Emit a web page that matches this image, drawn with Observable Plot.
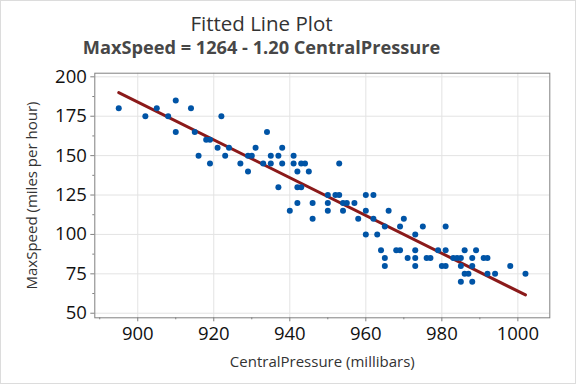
<!DOCTYPE html>
<html>
<head>
<meta charset="utf-8">
<script src="https://cdn.jsdelivr.net/npm/d3@7"></script>
<script src="https://cdn.jsdelivr.net/npm/@observablehq/plot@0.6"></script>
<style>
  html, body { margin: 0; padding: 0; background: #fff; }
  #wrap { position: relative; width: 576px; height: 384px; overflow: hidden; font-family: "Open Sans", sans-serif; background:#fff; }
  #chart { position: absolute; left: 0; top: 0; }
  .t { position: absolute; left: 0; width: 523px; text-align: center; white-space: nowrap; z-index: 2; }
  #title { top: 9.8px; font-size: 20.5px; line-height: 1.362; color: #333; }
  #subtitle { top: 35px; font-size: 18.2px; font-weight: 700; line-height: 1.362; color: #474747; }
  #border { position: absolute; left: 0; top: 0; width: 574px; height: 382px; border: 1px solid #dcdcdc; pointer-events: none; z-index: 3; }
  svg { display: block; }
</style>
</head>
<body>
<div id="wrap">
  <div id="chart"></div>
  <div class="t" id="title">Fitted Line Plot</div>
  <div class="t" id="subtitle">MaxSpeed = 1264 - 1.20 CentralPressure</div>
  <div id="border"></div>
</div>
<script>
// Data
const pressure = [
  895, 902, 905, 908, 910, 910, 914, 915, 916, 918,
  919, 919, 921, 922, 923, 924, 927, 929, 929, 930,
  931, 933, 934, 935, 935, 937, 937, 938, 938, 940,
  941, 941, 942, 942, 942, 943, 943, 944, 945, 946,
  946, 950, 950, 950, 952, 953, 953, 954, 954, 955,
  957, 958, 960, 960, 960, 962, 962, 963, 964, 965,
  965, 965, 966, 968, 969, 969, 970, 971, 973, 973,
  973, 973, 975, 976, 977, 979, 980, 981, 981, 981,
  983, 984, 985, 985, 985, 986, 986, 987, 988, 988,
  988, 989, 991, 992, 992, 994, 998, 1002
];
const speed = [
  180, 175, 180, 175, 185, 165, 180, 165, 150, 160,
  160, 145, 155, 175, 150, 155, 145, 150, 140, 150,
  155, 145, 165, 150, 145, 150, 130, 155, 145, 115,
  150, 145, 140, 130, 120, 145, 130, 145, 140, 120,
  110, 125, 120, 115, 125, 125, 145, 120, 115, 120,
  120, 110, 125, 115, 100, 125, 110, 100, 90, 105,
  85, 80, 115, 90, 105, 90, 110, 85, 100, 90,
  85, 80, 105, 85, 85, 90, 80, 105, 90, 80,
  85, 85, 85, 80, 70, 90, 75, 75, 85, 80,
  70, 90, 85, 85, 75, 75, 80, 75
];
const intercept = 1264;
const slope = -1.20;

const xTicks = [900, 920, 940, 960, 980, 1000];
const xMinorTicks = [890, 910, 930, 950, 970, 990];
const yTicks = [50, 75, 100, 125, 150, 175, 200];
const yMinorTicks = [62.5, 87.5, 112.5, 137.5, 162.5, 187.5];

const xLabel = "CentralPressure (millibars)";
const yLabel = "MaxSpeed (miles per hour)";

const points = pressure.map((p, i) => ({p, s: speed[i]}));
const fit = d3.extent(pressure).map(p => ({p, s: intercept + slope * p}));

const chart = Plot.plot({
  width: 576,
  height: 384,
  marginTop: 72.7,
  marginBottom: 66.7,
  marginLeft: 94.3,
  marginRight: 26.7,
  style: {fontFamily: "'Open Sans', sans-serif", background: "#fff"},
  x: {domain: [888.7, 1008.4], label: null},
  y: {domain: [47.1, 202.3], label: null},
  marks: [
    Plot.gridX(xTicks, {stroke: "#e3e3e3", strokeOpacity: 1, strokeWidth: 1}),
    Plot.gridY(yTicks, {stroke: "#e3e3e3", strokeOpacity: 1, strokeWidth: 1}),
    Plot.axisX(xTicks, {tickSize: 4, tickPadding: 5, fontSize: 18.5, fill: "#111", stroke: "#808080", label: null, tickFormat: d => String(d)}),
    Plot.axisX(xMinorTicks, {tickSize: 2, tickFormat: () => "", stroke: "#808080", label: null}),
    Plot.axisY(yTicks, {tickSize: 4, tickPadding: 4, fontSize: 18.5, fill: "#111", stroke: "#808080", label: null, tickFormat: d => String(d)}),
    Plot.axisY(yMinorTicks, {tickSize: 2, tickFormat: () => "", stroke: "#808080", label: null}),
    Plot.text([xLabel], {frameAnchor: "bottom", dy: 44, text: d => d, fontSize: 15, fill: "#333", lineAnchor: "middle", textAnchor: "middle"}),
    Plot.text([yLabel], {frameAnchor: "left", dx: -62.6, rotate: -90, text: d => d, fontSize: 15, fill: "#333", lineAnchor: "middle", textAnchor: "middle"}),
    Plot.line(fit, {x: "p", y: "s", stroke: "#8b1a1a", strokeWidth: 3}),
    Plot.dot(points, {x: "p", y: "s", r: 3, fill: "#0054a6", stroke: "none"}),
    Plot.frame({stroke: "#808080", strokeWidth: 1})
  ]
});
document.getElementById("chart").appendChild(chart);
</script>
</body>
</html>
